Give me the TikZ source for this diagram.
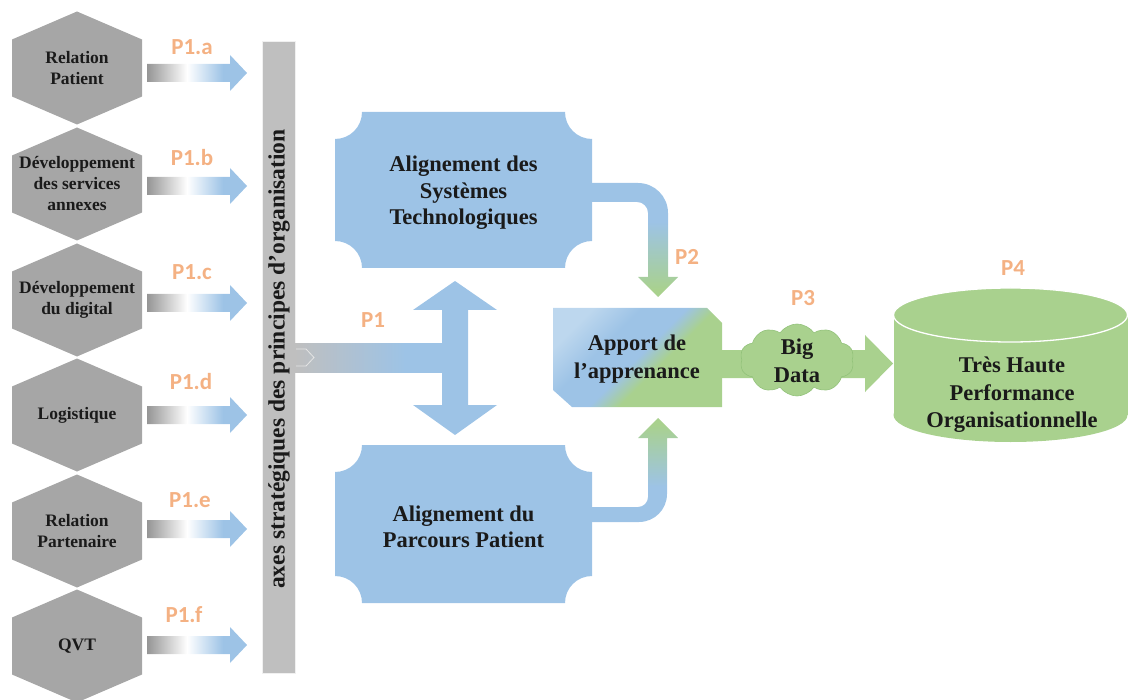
\documentclass[tikz,border=0pt]{standalone}
\usepackage{fontspec}
\setmainfont{Liberation Serif}
\newfontfamily\labelfont{Carlito}
\usetikzlibrary{shapes.symbols}

\definecolor{hexgray}{HTML}{A6A6A6}
\definecolor{bargray}{HTML}{BFBFBF}
\definecolor{arrgray}{HTML}{959595}
\definecolor{blueA}{HTML}{9DC3E6}
\definecolor{blueL}{HTML}{BDD7EE}
\definecolor{greenA}{HTML}{A9D18E}
\definecolor{greenD}{HTML}{92C27A}
\definecolor{orangeL}{HTML}{F4B183}
\definecolor{inkc}{HTML}{1A1A1A}

% gray -> white -> blue, for the small input arrows
\pgfdeclarehorizontalshading{inarrow}{100bp}{color(0bp)=(arrgray); color(25bp)=(arrgray); color(45bp)=(white); color(63bp)=(blueA); color(100bp)=(blueA)}
% gray -> blue, for the P1 arrow
\pgfdeclarehorizontalshading{pone}{100bp}{color(0bp)=(bargray); color(25bp)=(bargray); color(62bp)=(blueA); color(100bp)=(blueA)}
% blue on top, green at the bottom (P2)
\pgfdeclareverticalshading{downbg}{100bp}{color(0bp)=(greenA); color(28bp)=(greenA); color(58bp)=(blueA); color(100bp)=(blueA)}
% blue at the bottom, green on top
\pgfdeclareverticalshading{upbg}{100bp}{color(0bp)=(blueA); color(42bp)=(blueA); color(72bp)=(greenA); color(100bp)=(greenA)}
% light blue -> blue -> green, diagonal
\pgfdeclarehorizontalshading{apport}{100bp}{color(0bp)=(blueL); color(25bp)=(blueL); color(38bp)=(blueA); color(50bp)=(blueA); color(58bp)=(greenA); color(100bp)=(greenA)}

\begin{document}
\begin{tikzpicture}[x=1pt,y=-1pt,
  hextext/.style={font=\bfseries\fontsize{17.5}{21}\selectfont, align=center, text=inkc},
  boxtext/.style={font=\bfseries\fontsize{22.5}{26.5}\selectfont, align=center, text=inkc},
  bigtext/.style={font=\bfseries\fontsize{22.5}{27.5}\selectfont, align=center, text=inkc},
  plabel/.style={font=\labelfont\bfseries\fontsize{23}{26}\selectfont, text=orangeL}]
\useasboundingbox (0,0) rectangle (1129,700);

% left column: hexagons, input arrows and their labels
\foreach \i/\cy/\txt/\ay/\lab/\lx/\ly in {
  a/68/{Relation\\Patient}/73/P1.a/192/47,
  b/184/{Développement\\des services\\annexes}/186/P1.b/192/158,
  c/300/{Développement\\du digital}/303/P1.c/192/272,
  d/415/{Logistique}/415/P1.d/191/382,
  e/531/{Relation\\Partenaire}/529/P1.e/190/500,
  f/646/{QVT}/645/P1.f/184/615} {
  \fill[hexgray] (77,\cy-56.5) -- (142,\cy-28.5) -- (142,\cy+28.5) -- (77,\cy+56.5)
     -- (12,\cy+28.5) -- (12,\cy-28.5) -- cycle;
  \node[hextext] (hex\i) at (77,\cy) {\txt};
  \shade[shading=inarrow] (147,\ay-9) -- (230,\ay-9) -- (230,\ay-18) -- (247,\ay)
     -- (230,\ay+18) -- (230,\ay+9) -- (147,\ay+9) -- cycle;
  \node[plabel] (lab\i) at (\lx,\ly) {\lab};
}

% vertical bar
\fill[bargray, draw=white!88!gray, line width=0.6pt] (262,41) rectangle (295,673);
\node[rotate=90, font=\bfseries\fontsize{23.5}{26}\selectfont, text=inkc] (axes) at (279,359)
  {axes stratégiques des principes d’organisation};

% P1 arrow and the double arrow
\shade[shading=pone] (295,343) rectangle (444,372);
\draw[white!80!gray, line width=0.8pt] (296,349) -- (306,349) -- (314,357.5) -- (306,366) -- (296,366);
\fill[blueA] (455,281) -- (497,310) -- (468,310) -- (468,405) -- (497,405) -- (455,435)
  -- (413,405) -- (442,405) -- (442,310) -- (413,310) -- cycle;
\node[plabel] (pone) at (373,320) {P1};

% alignment boxes with concave corners
\newcommand\concaverect[4]{%
  \fill[blueA] ({#1+27},#2) -- ({#3-27},#2) .. controls ({#3-27},{#2+15}) and ({#3-15},{#2+27}) .. (#3,{#2+27})
   -- (#3,{#4-27}) .. controls ({#3-15},{#4-27}) and ({#3-27},{#4-15}) .. ({#3-27},#4)
   -- ({#1+27},#4) .. controls ({#1+27},{#4-15}) and ({#1+15},{#4-27}) .. (#1,{#4-27})
   -- (#1,{#2+27}) .. controls ({#1+15},{#2+27}) and ({#1+27},{#2+15}) .. ({#1+27},#2) -- cycle;}
\concaverect{335}{112}{592}{268}
\concaverect{335}{445}{592}{603}
\node[boxtext] (systemes) at (463.5,193) {Alignement des\\Systèmes\\Technologiques};
\node[boxtext] (parcours) at (463.5,527) {Alignement du\\Parcours Patient};

% P2: from the top box down to the learning box
\shade[shading=downbg] (592,183) -- (638,183) .. controls (654.6,183) and (668,196.4) .. (668,213)
  -- (668,277) -- (678,277) -- (658,297) -- (638,277) -- (648,277) -- (648,213)
  .. controls (648,206.9) and (643.1,202) .. (637,202) -- (592,202) -- cycle;
\node[plabel] (ptwo) at (687,257) {P2};

% from the bottom box up to the learning box
\shade[shading=upbg] (592,507) -- (638,507) .. controls (643.5,507) and (648,502.5) .. (648,497)
  -- (648,438) -- (638,438) -- (658,418) -- (678,438) -- (667,438) -- (667,494)
  .. controls (667,509.5) and (654.5,522) .. (639,522) -- (592,522) -- cycle;

% learning box
\shade[shading=apport, shading angle=-45] (553,308) -- (707,308) -- (722,323) -- (722,407)
  -- (572,407) -- (553,390) -- cycle;
\node[bigtext] (apport) at (637,359) {Apport de\\l’apprenance};

% P3: big data arrow and cloud
\fill[greenA] (722,350) -- (865,350) -- (865,335) -- (893,363.5) -- (865,392) -- (865,378)
  -- (722,378) -- cycle;
\node[cloud, cloud puffs=10, cloud puff arc=110, aspect=1.6, fill=greenA, draw=greenD,
  line width=0.6pt, minimum width=114pt, minimum height=72pt, inner sep=0pt] (cloud) at (797,360) {};
\node[bigtext] (bigdata) at (797,361) {Big\\Data};
\node[plabel] (pthree) at (803,298) {P3};

% P4: cylinder
\fill[greenA] (1010.5,415) ellipse [x radius=117pt, y radius=27pt];
\fill[greenA] (893.5,315) rectangle (1127.5,415);
\fill[greenA, draw=white, line width=1.3pt] (1010.5,315) ellipse [x radius=117pt, y radius=27pt];
\node[bigtext] (perf) at (1012,395) {Très Haute\\Performance\\Organisationnelle};
\node[plabel] (pfour) at (1013,268) {P4};
\end{tikzpicture}
\end{document}
